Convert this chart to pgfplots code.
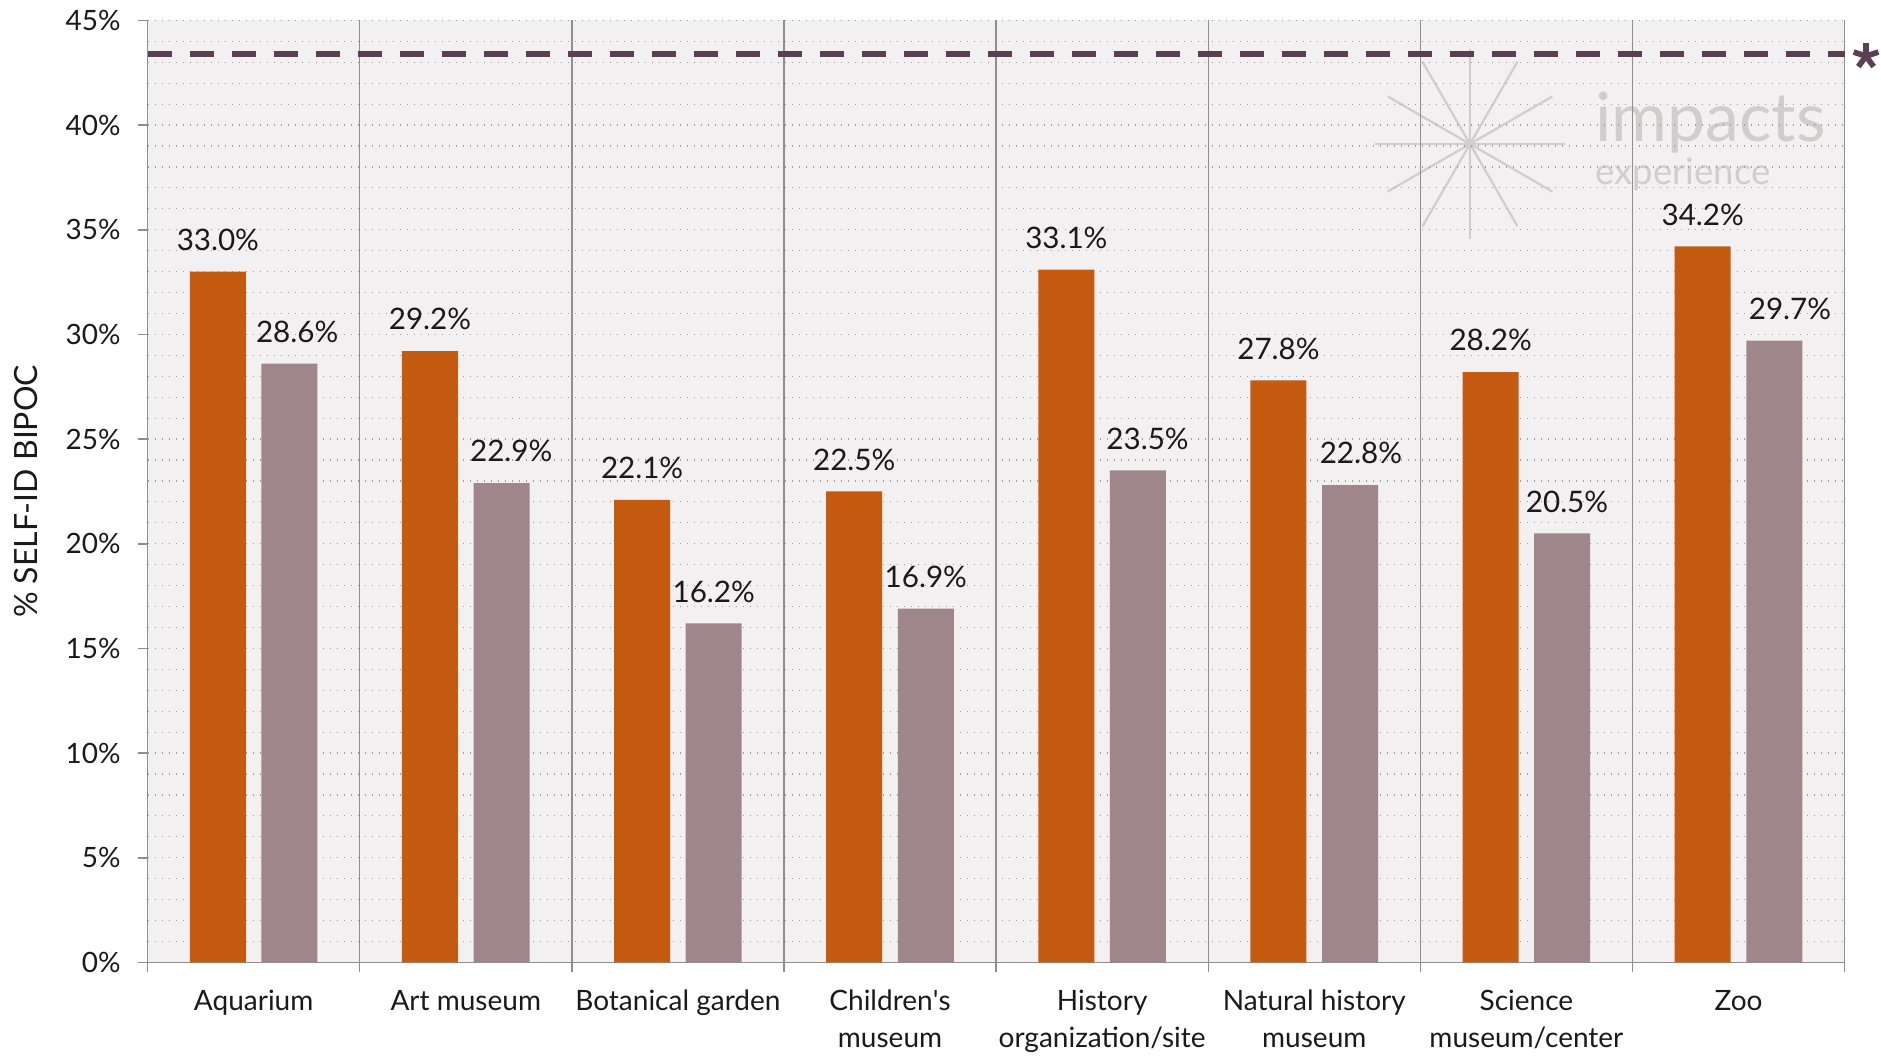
\documentclass[border=0pt]{standalone}
\usepackage{pgfplots}
\pgfplotsset{compat=1.18}
\usepackage{fontspec}
\setmainfont{Lato}
\definecolor{barorange}{HTML}{C55A11}
\definecolor{barmauve}{HTML}{9E868B}
\definecolor{refline}{HTML}{5A4052}
\definecolor{plotbg}{HTML}{F2F0F1}
\definecolor{gridgray}{HTML}{A0A0A0}
\definecolor{vline}{HTML}{8E8E8E}
\definecolor{logogray}{HTML}{D2CCCD}
\definecolor{txt}{HTML}{1A1A1A}
\begin{document}
\begin{tikzpicture}
\useasboundingbox (-73.8pt,-46.8pt) rectangle (866.7pt,481.2pt);
\fill[plotbg] (0,0) rectangle (848.5pt,471pt);
\begin{scope}[shift={(661.2pt,409.2pt)}, draw=logogray, line width=1.1pt]
  \foreach \a in {0,30,...,150} \draw[logogray] (\a:47.5pt) -- (\a+180:47.5pt);
\end{scope}
\node[anchor=base west, inner sep=0, text=logogray] at (723.7pt,410.2pt) {\resizebox{115pt}{!}{impacts}};
\node[anchor=base west, inner sep=0, text=logogray] at (723.7pt,388.7pt) {\resizebox{87.5pt}{!}{experience}};
\begin{axis}[
  at={(0,0)}, anchor=south west,
  scale only axis, width=848.5pt, height=471pt,
  xmin=-0.5, xmax=7.5, ymin=0, ymax=45,
  clip=false,
  axis x line*=bottom, axis y line*=left,
  axis line style={-, draw=vline, line width=0.8pt},
  tick align=outside,
  major tick length=5pt, minor tick length=0pt,
  xtick={0,...,7},
  xticklabels={Aquarium, Art museum, Botanical garden, Children{\addfontfeatures{Ligatures=TeXOff}'}s\\museum, History\\organization/site, Natural history\\museum, Science\\museum/center, Zoo},
  xticklabel style={align=center, font=\fontsize{14}{18.5}\selectfont, text=txt, yshift=-5.4pt},
  xtick style={draw=none},
  extra x ticks={-0.5,0.5,...,7.5},
  extra x tick labels={},
  extra x tick style={xmajorgrids=true, major x grid style={solid, draw=vline, line width=0.7pt}, xtick style={draw=vline, line width=0.7pt}},
  ytick={0,5,...,45},
  yticklabels={0\%,5\%,10\%,15\%,20\%,25\%,30\%,35\%,40\%,45\%},
  yticklabel style={font=\fontsize{14}{16}\selectfont, text=txt, xshift=-5pt},
  ytick style={draw=vline, line width=0.8pt},
  ymajorgrids=true, yminorgrids=true, minor y tick num=4,
  major y grid style={draw=gridgray, line width=0.6pt, dash pattern=on 0.6pt off 2.9pt},
  minor y grid style={draw=gridgray, line width=0.6pt, dash pattern=on 0.6pt off 2.9pt},
  ylabel={\% SELF-ID BIPOC},
  every axis y label/.style={at={(axis description cs:-0.0717,0.5)}, anchor=center, rotate=90, font=\fontsize{16}{18}\selectfont, text=txt},
  every node near coord/.append style={anchor=base, yshift=10.6pt, font=\fontsize{14.8}{16}\selectfont, text=txt},
]
\addplot[ybar, bar width=28pt, bar shift=-17.9pt, fill=barorange, draw=none,
  every node near coord/.append style={xshift=-17.9pt},
  nodes near coords={\pgfmathprintnumber[fixed,fixed zerofill,precision=1,assume math mode=true]{\pgfplotspointmeta}\%}]
  coordinates {(0,33.0) (1,29.2) (2,22.1) (3,22.5) (4,33.1) (5,27.8) (6,28.2) (7,34.2)};
\addplot[ybar, bar width=28pt, bar shift=17.9pt, fill=barmauve, draw=none,
  visualization depends on={\thisrow{dx} \as \dx},
  every node near coord/.append style={xshift={(17.9+\dx)*1pt}},
  nodes near coords={\pgfmathprintnumber[fixed,fixed zerofill,precision=1,assume math mode=true]{\pgfplotspointmeta}\%}]
  table {
x y dx
0 28.6 3.85
1 22.9 4.8
2 16.2 0
3 16.9 0
4 23.5 4.8
5 22.8 5.4
6 20.5 2.4
7 29.7 7.8
};
\addplot[sharp plot, no marks, draw=refline, line width=3pt, dash pattern=on 12pt off 9pt]
  coordinates {(-0.5,43.4) (7.5,43.4)};
\coordinate (ast) at (axis cs:7.5,43.4);
\end{axis}
\begin{scope}[shift={(ast)}, xshift=10.7pt, yshift=-1.1pt]
  \foreach \a in {90,18,162,-54,-126} \draw[refline, line width=2.8pt] (0,0) -- (\a:6.5pt);
\end{scope}
\end{tikzpicture}
\end{document}
